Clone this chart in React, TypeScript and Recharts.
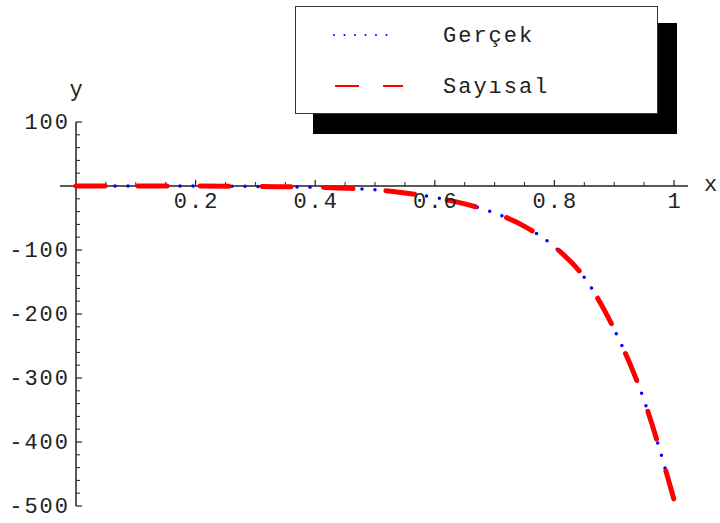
import React from "react";
import {
  LineChart,
  Line,
  XAxis,
  YAxis,
  ReferenceLine,
  ReferenceDot,
  Legend,
} from "recharts";

// ---------- data ----------
const X_VALUES = [0, 0.05, 0.1, 0.15, 0.2, 0.25, 0.3, 0.35, 0.4, 0.45, 0.5, 0.55, 0.6, 0.65, 0.7, 0.75, 0.8, 0.85, 0.9, 0.95, 1];
const GERCEK = [0, 0, 0, 0, 0, -0.3, -0.6, -1.2, -2, -3.5, -6, -11, -18, -28, -42, -63, -95, -143, -224, -335, -490];
const SAYISAL = [0, 0, 0, 0, 0, -0.3, -0.6, -1.2, -2, -3.5, -6, -11, -18, -28, -42, -63, -95, -143, -224, -335, -490];

const X_MAJOR_TICKS = [0.2, 0.4, 0.6, 0.8, 1];
const X_TICK_LABELS = ["0.2", "0.4", "0.6", "0.8", "1"];
const X_MINOR_TICKS = [0.05, 0.1, 0.15, 0.25, 0.3, 0.35, 0.45, 0.5, 0.55, 0.65, 0.7, 0.75, 0.85, 0.9, 0.95];
const Y_MAJOR_TICKS = [100, -100, -200, -300, -400, -500];
const Y_TICK_LABELS = ["100", "-100", "-200", "-300", "-400", "-500"];
const Y_MINOR_TICKS = [80, 60, 40, 20, -20, -40, -60, -80, -120, -140, -160, -180, -220, -240, -260, -280, -320, -340, -360, -380, -420, -440, -460, -480];

const SERIES_NAMES = ["Gerçek", "Sayısal"];

const data = X_VALUES.map((x, i) => ({ x, gercek: GERCEK[i], sayisal: SAYISAL[i] }));

// ---------- layout ----------
const W = 720;
const H = 523;
const MARGIN = { top: 122, right: 32, bottom: 17, left: 60 };
const X_DOMAIN: [number, number] = [-0.0268, 1.0234];
const Y_DOMAIN: [number, number] = [-500, 100];
const PLOT_W = W - MARGIN.left - MARGIN.right;
const PLOT_H = H - MARGIN.top - MARGIN.bottom;
const PX_PER_X = PLOT_W / (X_DOMAIN[1] - X_DOMAIN[0]);
const PX_PER_Y = PLOT_H / (Y_DOMAIN[1] - Y_DOMAIN[0]);

const FONT = "'Liberation Mono', 'DejaVu Sans Mono', monospace";
const FONT_SIZE = 22;
const LETTER_SPACING = 2;
const TEXT_COLOR = "#222";
const AXIS_COLOR = "#222";

const X_MAJOR_LEN = 6 / PX_PER_Y;
const X_MINOR_LEN = 4 / PX_PER_Y;
const Y_MAJOR_LEN = 6 / PX_PER_X;
const Y_MINOR_LEN = 4 / PX_PER_X;

type TextProps = {
  viewBox?: any;
  text: string;
  dx: number;
  dy: number;
  anchor: "start" | "middle" | "end";
};

const PlotText = ({ viewBox, text, dx, dy, anchor }: TextProps) => {
  if (!viewBox) return null;
  const cx = viewBox.x + (viewBox.width || 0) / 2;
  const cy = viewBox.y + (viewBox.height || 0) / 2;
  return (
    <text
      x={cx + dx}
      y={cy + dy}
      textAnchor={anchor}
      fontFamily={FONT}
      fontSize={FONT_SIZE}
      letterSpacing={LETTER_SPACING}
      fill={TEXT_COLOR}
    >
      {text}
    </text>
  );
};

const LegendBox = (props: any) => {
  const payload = props.payload || [];
  return (
    <div style={{ position: "relative", width: 382, height: 128 }}>
      <div
        style={{
          position: "absolute",
          left: 18,
          top: 17,
          width: 364,
          height: 111,
          background: "#000",
        }}
      />
      <div
        style={{
          position: "absolute",
          left: 0,
          top: 0,
          width: 361,
          height: 106,
          background: "#fff",
          border: "1.5px solid #333",
        }}
      >
        <svg width={361} height={106} style={{ position: "absolute", left: 0, top: 0 }}>
          {payload.map((entry: any, i: number) => {
            const y = 28 + i * 51;
            const dotted = i === 0;
            return (
              <g key={entry.value}>
                <line
                  x1={dotted ? 38 : 39}
                  x2={dotted ? 101 : 107}
                  y1={y}
                  y2={y}
                  stroke={entry.color}
                  strokeWidth={2}
                  strokeDasharray={dotted ? "0 10.5" : "24 24"}
                  strokeLinecap={dotted ? "round" : "butt"}
                />
                <text
                  x={147}
                  y={y + 7}
                  fontFamily={FONT}
                  fontSize={FONT_SIZE}
                  letterSpacing={LETTER_SPACING}
                  fill={TEXT_COLOR}
                >
                  {entry.value}
                </text>
              </g>
            );
          })}
        </svg>
      </div>
    </div>
  );
};

export default function App() {
  return (
    <div style={{ position: "absolute", left: 0, top: 0, width: W, height: H, background: "#fff" }}>
      <LineChart width={W} height={H} data={data} margin={MARGIN}>
        <XAxis dataKey="x" type="number" domain={X_DOMAIN} allowDataOverflow hide />
        <YAxis type="number" domain={Y_DOMAIN} allowDataOverflow hide />

        {/* axes */}
        <ReferenceLine y={0} stroke={AXIS_COLOR} strokeWidth={1.5} />
        <ReferenceLine
          segment={[{ x: 0, y: Y_DOMAIN[0] }, { x: 0, y: Y_DOMAIN[1] }]}
          stroke={AXIS_COLOR}
          strokeWidth={1.5}
        />

        {/* x ticks */}
        {X_MAJOR_TICKS.map((t) => (
          <ReferenceLine
            key={"xM" + t}
            segment={[{ x: t, y: 0 }, { x: t, y: X_MAJOR_LEN }]}
            stroke={AXIS_COLOR}
            strokeWidth={1.2}
          />
        ))}
        {X_MINOR_TICKS.map((t) => (
          <ReferenceLine
            key={"xm" + t}
            segment={[{ x: t, y: 0 }, { x: t, y: X_MINOR_LEN }]}
            stroke={AXIS_COLOR}
            strokeWidth={1}
          />
        ))}

        {/* y ticks */}
        {Y_MAJOR_TICKS.map((t) => (
          <ReferenceLine
            key={"yM" + t}
            segment={[{ x: 0, y: t }, { x: Y_MAJOR_LEN, y: t }]}
            stroke={AXIS_COLOR}
            strokeWidth={1.2}
          />
        ))}
        {Y_MINOR_TICKS.map((t) => (
          <ReferenceLine
            key={"ym" + t}
            segment={[{ x: 0, y: t }, { x: Y_MINOR_LEN, y: t }]}
            stroke={AXIS_COLOR}
            strokeWidth={1}
          />
        ))}

        {/* tick labels */}
        {X_MAJOR_TICKS.map((t, i) => (
          <ReferenceDot
            key={"xl" + t}
            x={t}
            y={0}
            r={0}
            fill="none"
            stroke="none"
            ifOverflow="visible"
            label={<PlotText text={X_TICK_LABELS[i]} dx={1} dy={22} anchor="middle" />}
          />
        ))}
        {Y_MAJOR_TICKS.map((t, i) => (
          <ReferenceDot
            key={"yl" + t}
            x={0}
            y={t}
            r={0}
            fill="none"
            stroke="none"
            ifOverflow="visible"
            label={<PlotText text={Y_TICK_LABELS[i]} dx={-6} dy={7} anchor="end" />}
          />
        ))}

        {/* axis labels */}
        <ReferenceDot
          x={0}
          y={Y_DOMAIN[1]}
          r={0}
          fill="none"
          stroke="none"
          ifOverflow="visible"
          label={<PlotText text="y" dx={1} dy={-26} anchor="middle" />}
        />
        <ReferenceDot
          x={X_DOMAIN[1]}
          y={0}
          r={0}
          fill="none"
          stroke="none"
          ifOverflow="visible"
          label={<PlotText text="x" dx={16} dy={5} anchor="start" />}
        />

        <Line
          dataKey="gercek"
          name={SERIES_NAMES[0]}
          type="monotone"
          stroke="#0000ff"
          strokeWidth={3.5}
          strokeDasharray="0 13"
          strokeLinecap="round"
          dot={false}
          activeDot={false}
          isAnimationActive={false}
        />
        <Line
          dataKey="sayisal"
          name={SERIES_NAMES[1]}
          type="monotone"
          stroke="#ff0000"
          strokeWidth={5}
          strokeDasharray="29 33"
          strokeLinecap="round"
          dot={false}
          activeDot={false}
          isAnimationActive={false}
        />

        <Legend
          layout="vertical"
          align="center"
          verticalAlign="middle"
          content={<LegendBox />}
          wrapperStyle={{ position: "absolute", left: 295, top: 6, width: 382, height: 128 }}
        />
      </LineChart>
    </div>
  );
}
